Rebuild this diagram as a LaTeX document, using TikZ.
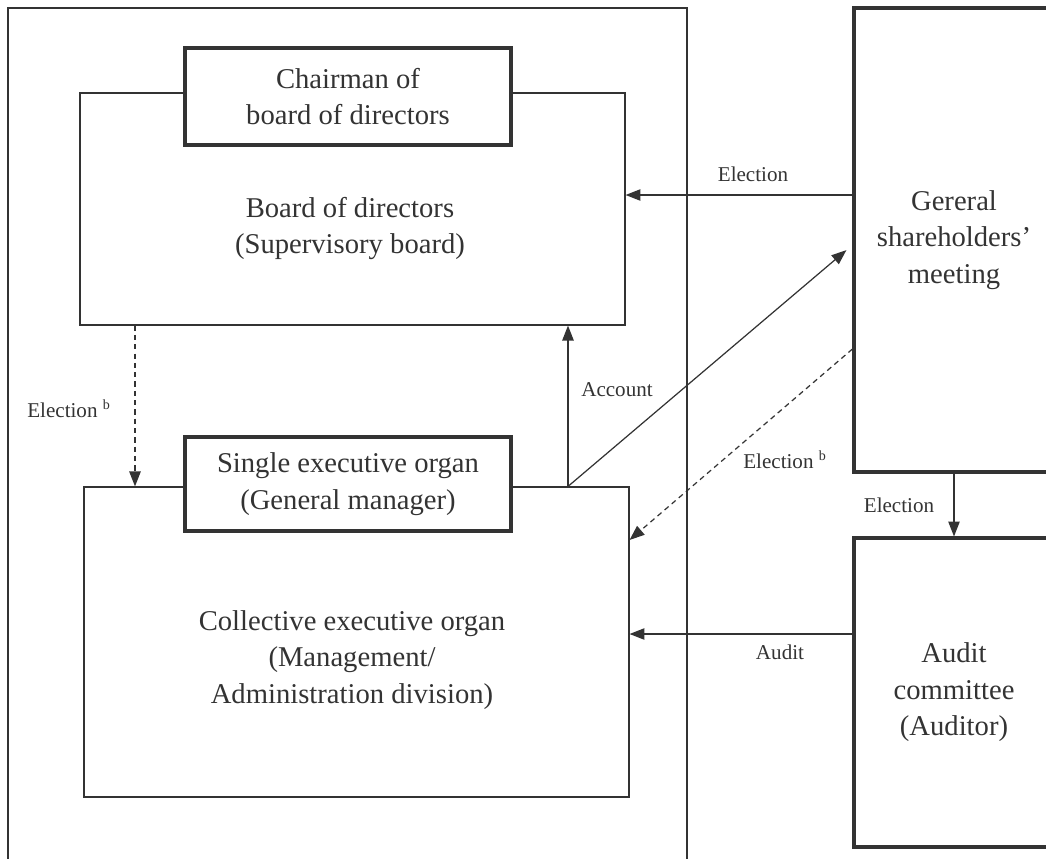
\documentclass[tikz,border=0pt]{standalone}
\usepackage{fontspec}
\setmainfont{Liberation Serif}
\usetikzlibrary{arrows.meta,calc}
\definecolor{ink}{gray}{0.2}

\begin{document}
\begin{tikzpicture}[x=0.02cm,y=-0.02cm,
  box/.style={draw=ink,line width=.7pt,fill=white,inner sep=0pt,align=center,
    font=\fontsize{16.3}{20.8}\selectfont},
  headbox/.style={box,line width=1.8pt},
  txt/.style={inner sep=0pt,align=center,text=ink,font=\fontsize{16.3}{20.8}\selectfont},
  lab/.style={inner sep=0pt,text=ink,font=\fontsize{12}{14}\selectfont},
  arr/.style={draw=ink,line width=.7pt,-{Triangle[length=8.5pt,width=6.5pt]}},
  darr/.style={arr,dash pattern=on 3pt off 2.3pt}]
\useasboundingbox (0,0) rectangle (1046,859);
% company frame, open at the bottom
\draw[ink,line width=.7pt] (8,859) -- (8,8) -- (687,8) -- (687,859);
% boards
\node[box,minimum width=10.9cm,minimum height=4.64cm] (board) at (352.5,209) {};
\node[txt] (boardtxt) at (350,228.5) {Board of directors\\(Supervisory board)};
\node[headbox,minimum width=6.52cm,minimum height=1.94cm,text=ink] (chair) at (348,96.5) {Chairman of\\board of directors};
\node[box,minimum width=10.9cm,minimum height=6.2cm] (coll) at (356.5,642) {};
\node[txt] (colltxt) at (352,660) {Collective executive organ\\(Management/\\Administration division)};
\node[headbox,minimum width=6.52cm,minimum height=1.88cm,text=ink] (single) at (348,484) {Single executive organ\\(General manager)};
% outside bodies
\node[headbox,minimum width=4cm,minimum height=9.28cm,text=ink] (gsm) at (954,240) {Gereral\\shareholders'\\meeting};
\node[headbox,minimum width=4cm,minimum height=6.18cm,text=ink] (audit) at (954,692.5) {Audit\\committee\\(Auditor)};
% connectors
\draw[arr] (gsm.west |- 0,195) -- (board.east |- 0,195);
\node[lab] (lelect) at (753,174) {Election};
\draw[arr] (coll.north -| 568,0) -- (board.south -| 568,0);
\node[lab] (laccount) at (617,390) {Account};
\draw[arr,shorten >=4.5pt] (coll.north -| 568,0) -- (gsm.west |- 0,245);
\draw[darr] (gsm.west |- 0,349) -- (coll.east |- 0,540);
\node[lab] (lelectb) at (785,460) {Election \textsuperscript{b}};
\draw[darr] (board.south -| 135,0) -- (coll.north -| 135,0);
\node[lab] (lelectc) at (69,409) {Election \textsuperscript{b}};
\draw[arr] (gsm.south -| 954,0) -- (audit.north -| 954,0);
\node[lab] (lelectd) at (899,505) {Election};
\draw[arr] (audit.west |- 0,634) -- (coll.east |- 0,634);
\node[lab] (laudit) at (780,652) {Audit};
\end{tikzpicture}
\end{document}
